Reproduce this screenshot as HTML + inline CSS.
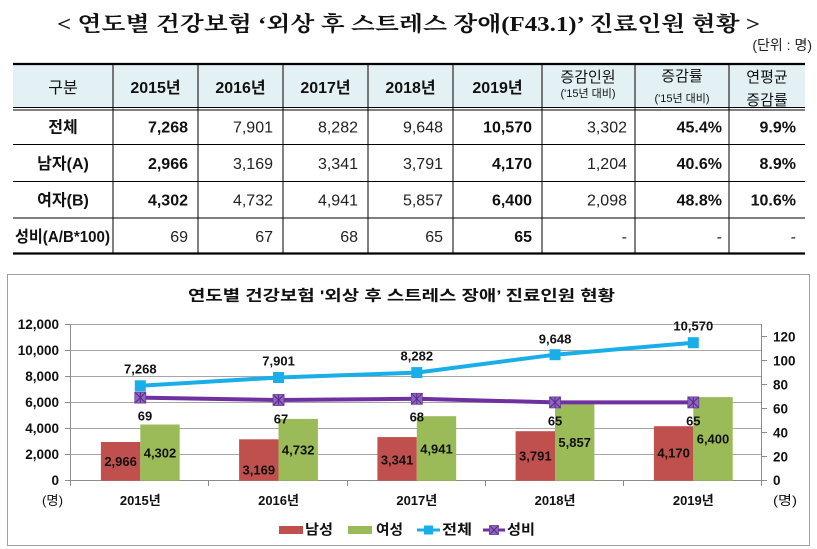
<!DOCTYPE html>
<html><head><meta charset="utf-8">
<style>
html,body{margin:0;padding:0;background:#fff;}
svg{display:block;}
text{font-family:"Liberation Sans","Noto Sans CJK KR",sans-serif;}
.ser{font-family:"Liberation Serif","Noto Serif CJK SC","Noto Sans CJK KR",serif;}
</style></head><body>
<svg width="817" height="549" viewBox="0 0 817 549" xmlns="http://www.w3.org/2000/svg">
<rect width="817" height="549" fill="#fff"/>
<!-- Title -->
<text class="ser" x="57" y="31" font-size="21" font-weight="700" fill="#111" textLength="703" lengthAdjust="spacingAndGlyphs">&lt; 연도별 건강보험 ‘외상 후 스트레스 장애(F43.1)’ 진료인원 현황 &gt;</text>
<text x="812" y="50" font-size="14" text-anchor="end" fill="#222">(단위 : 명)</text>

<!-- Table -->
<rect x="13" y="64" width="792" height="43" fill="#e3f1f4"/>
<line x1="13" y1="64" x2="805" y2="64" stroke="#000" stroke-width="2.2"/>
<line x1="13" y1="107.5" x2="805" y2="107.5" stroke="#000" stroke-width="1"/>
<line x1="13" y1="110" x2="805" y2="110" stroke="#000" stroke-width="1"/>
<line x1="13" y1="144.5" x2="805" y2="144.5" stroke="#000" stroke-width="1"/>
<line x1="13" y1="181.5" x2="805" y2="181.5" stroke="#000" stroke-width="1"/>
<line x1="13" y1="218" x2="805" y2="218" stroke="#000" stroke-width="1"/>
<line x1="13" y1="253.5" x2="805" y2="253.5" stroke="#000" stroke-width="2.2"/>
<g stroke="#000" stroke-width="1">
<line x1="113" y1="65" x2="113" y2="253"/>
<line x1="198" y1="65" x2="198" y2="253"/>
<line x1="283" y1="65" x2="283" y2="253"/>
<line x1="368" y1="65" x2="368" y2="253"/>
<line x1="453" y1="65" x2="453" y2="253"/>
<line x1="542" y1="65" x2="542" y2="253"/>
<line x1="635" y1="65" x2="635" y2="253"/>
<line x1="729" y1="65" x2="729" y2="253"/>
</g>
<!-- header text -->
<g font-size="16" fill="#111" text-anchor="middle">
<text x="63" y="93">구분</text>
<g font-weight="700">
<text x="155.5" y="93">2015년</text>
<text x="240.5" y="93">2016년</text>
<text x="325.5" y="93">2017년</text>
<text x="410.5" y="93">2018년</text>
<text x="497.5" y="93">2019년</text>
</g>
<text x="588" y="82" font-size="15">증감인원</text>
<text x="588" y="97" font-size="11">('15년 대비)</text>
<text x="682" y="81" font-size="15">증감률</text>
<text x="682" y="102" font-size="11">('15년 대비)</text>
<text x="767" y="82" font-size="15">연평균</text>
<text x="767" y="105" font-size="15">증감률</text>
</g>
<!-- row labels -->
<g font-size="16" fill="#111" text-anchor="middle" font-weight="700">
<text x="63" y="132.5">전체</text>
<text x="63" y="169">남자(A)</text>
<text x="63" y="205.5">여자(B)</text>
<text x="15" y="242" text-anchor="start" textLength="95" lengthAdjust="spacingAndGlyphs">성비(A/B*100)</text>
</g>
<!-- data -->
<g font-size="16" fill="#111" text-anchor="end">
<g font-weight="700">
<text x="188" y="132.5">7,268</text><text x="188" y="169">2,966</text><text x="188" y="205.5">4,302</text>
<text x="532" y="132.5">10,570</text><text x="532" y="169">4,170</text><text x="532" y="205.5">6,400</text><text x="532" y="242">65</text>
<text x="722" y="132.5">45.4%</text><text x="722" y="169">40.6%</text><text x="722" y="205.5">48.8%</text>
<text x="796" y="132.5">9.9%</text><text x="796" y="169">8.9%</text><text x="796" y="205.5">10.6%</text>
</g>
<g fill="#222">
<text x="188" y="242">69</text>
<text x="273" y="132.5">7,901</text><text x="273" y="169">3,169</text><text x="273" y="205.5">4,732</text><text x="273" y="242">67</text>
<text x="358" y="132.5">8,282</text><text x="358" y="169">3,341</text><text x="358" y="205.5">4,941</text><text x="358" y="242">68</text>
<text x="443" y="132.5">9,648</text><text x="443" y="169">3,791</text><text x="443" y="205.5">5,857</text><text x="443" y="242">65</text>
<text x="627" y="132.5">3,302</text><text x="627" y="169">1,204</text><text x="627" y="205.5">2,098</text><text x="627" y="242">-</text>
<text x="722" y="242">-</text>
<text x="796" y="242">-</text>
</g>
</g>

<!-- Chart box -->
<rect x="7.5" y="274.5" width="802" height="271" fill="#fff" stroke="#a0a0a0" stroke-width="1"/>
<text x="401.5" y="300.5" font-size="15" font-weight="700" text-anchor="middle" fill="#111" textLength="427" lengthAdjust="spacingAndGlyphs">연도별 건강보험 '외상 후 스트레스 장애’ 진료인원 현황</text>

<!-- gridlines -->
<g stroke="#a6a6a6" stroke-width="1">
<line x1="70" y1="324.5" x2="762" y2="324.5"/>
<line x1="70" y1="350.5" x2="762" y2="350.5"/>
<line x1="70" y1="376.5" x2="762" y2="376.5"/>
<line x1="70" y1="402.5" x2="762" y2="402.5"/>
<line x1="70" y1="428.5" x2="762" y2="428.5"/>
<line x1="70" y1="454.5" x2="762" y2="454.5"/>
</g>
<!-- axes -->
<g stroke="#8c8c8c" stroke-width="1">
<line x1="70.5" y1="324" x2="70.5" y2="481"/>
<line x1="761.5" y1="324" x2="761.5" y2="481"/>
<line x1="65" y1="480.5" x2="767" y2="480.5"/>
<line x1="65" y1="324.5" x2="70" y2="324.5"/>
<line x1="65" y1="350.5" x2="70" y2="350.5"/>
<line x1="65" y1="376.5" x2="70" y2="376.5"/>
<line x1="65" y1="402.5" x2="70" y2="402.5"/>
<line x1="65" y1="428.5" x2="70" y2="428.5"/>
<line x1="65" y1="454.5" x2="70" y2="454.5"/>
<line x1="762" y1="336.5" x2="767" y2="336.5"/>
<line x1="762" y1="360.5" x2="767" y2="360.5"/>
<line x1="762" y1="384.5" x2="767" y2="384.5"/>
<line x1="762" y1="408.5" x2="767" y2="408.5"/>
<line x1="762" y1="432.5" x2="767" y2="432.5"/>
<line x1="762" y1="456.5" x2="767" y2="456.5"/>
<line x1="70.5" y1="481" x2="70.5" y2="486"/>
<line x1="208.5" y1="481" x2="208.5" y2="486"/>
<line x1="347.5" y1="481" x2="347.5" y2="486"/>
<line x1="485.5" y1="481" x2="485.5" y2="486"/>
<line x1="623.5" y1="481" x2="623.5" y2="486"/>
<line x1="761.5" y1="481" x2="761.5" y2="486"/>
</g>
<!-- left axis labels -->
<g font-size="13.5" font-weight="700" fill="#111" text-anchor="end">
<text x="59" y="329">12,000</text>
<text x="59" y="355">10,000</text>
<text x="59" y="381">8,000</text>
<text x="59" y="407">6,000</text>
<text x="59" y="433">4,000</text>
<text x="59" y="459">2,000</text>
<text x="59" y="485">0</text>
</g>
<g font-size="13.5" font-weight="700" fill="#111" text-anchor="start">
<text x="773" y="341.5">120</text>
<text x="773" y="365.5">100</text>
<text x="773" y="389.5">80</text>
<text x="773" y="413.5">60</text>
<text x="773" y="437.5">40</text>
<text x="773" y="461.5">20</text>
<text x="773" y="485">0</text>
</g>
<!-- bars -->
<g fill="#c0504d">
<rect x="100.9" y="442.0" width="39.4" height="38.7"/>
<rect x="239.1" y="439.3" width="39.4" height="41.4"/>
<rect x="377.4" y="437.1" width="39.4" height="43.6"/>
<rect x="515.6" y="431.2" width="39.4" height="49.5"/>
<rect x="653.9" y="426.2" width="39.4" height="54.5"/>
</g>
<g fill="#9bbb59">
<rect x="140.3" y="424.5" width="39.4" height="56.2"/>
<rect x="278.5" y="418.9" width="39.4" height="61.8"/>
<rect x="416.8" y="416.2" width="39.4" height="64.5"/>
<rect x="555.0" y="404.2" width="39.4" height="76.5"/>
<rect x="693.3" y="397.1" width="39.4" height="83.6"/>
</g>
<!-- lines -->
<polyline points="140.3,385.8 278.55,377.5 416.8,372.6 555.05,354.7 693.3,342.7" fill="none" stroke="#1aaee8" stroke-width="4" stroke-linejoin="round"/>
<g fill="#1aaee8">
<rect x="134.8" y="380.3" width="11" height="11"/>
<rect x="273.05" y="372" width="11" height="11"/>
<rect x="411.3" y="367.1" width="11" height="11"/>
<rect x="549.55" y="349.2" width="11" height="11"/>
<rect x="687.8" y="337.2" width="11" height="11"/>
</g>
<polyline points="140.3,397.6 278.55,400 416.8,398.8 555.05,402.4 693.3,402.4" fill="none" stroke="#7030a0" stroke-width="4" stroke-linejoin="round"/>
<g fill="#8f66bd" stroke="#6a3a9a" stroke-width="0.8">
<rect x="134.8" y="392.1" width="11" height="11"/>
<rect x="273.05" y="394.5" width="11" height="11"/>
<rect x="411.3" y="393.3" width="11" height="11"/>
<rect x="549.55" y="396.9" width="11" height="11"/>
<rect x="687.8" y="396.9" width="11" height="11"/>
</g>
<g stroke="#5a2a8a" stroke-width="1">
<path d="M135.3 392.6 L145.3 402.6 M145.3 392.6 L135.3 402.6 M140.3 392.1 L140.3 403.1"/>
<path d="M273.55 395 L283.55 405 M283.55 395 L273.55 405 M278.55 394.5 L278.55 405.5"/>
<path d="M411.8 393.8 L421.8 403.8 M421.8 393.8 L411.8 403.8 M416.8 393.3 L416.8 404.3"/>
<path d="M550.05 397.4 L560.05 407.4 M560.05 397.4 L550.05 407.4 M555.05 396.9 L555.05 407.9"/>
<path d="M688.3 397.4 L698.3 407.4 M698.3 397.4 L688.3 407.4 M693.3 396.9 L693.3 407.9"/>
</g>
<!-- data labels -->
<g font-size="13" font-weight="700" fill="#111" text-anchor="middle">
<text x="140.3" y="373.5">7,268</text>
<text x="278.55" y="365.5">7,901</text>
<text x="416.8" y="360.5">8,282</text>
<text x="555.05" y="343.5">9,648</text>
<text x="693.3" y="330.5">10,570</text>
<text x="145" y="420.5">69</text>
<text x="281" y="423.5">67</text>
<text x="416.8" y="421.5">68</text>
<text x="555.05" y="425.5">65</text>
<text x="693.3" y="425.5">65</text>
<text x="120.6" y="466">2,966</text>
<text x="258.8" y="474.5">3,169</text>
<text x="397.1" y="464.5">3,341</text>
<text x="535.3" y="460.5">3,791</text>
<text x="673.6" y="457.5">4,170</text>
<text x="160" y="457.5">4,302</text>
<text x="298.2" y="454.5">4,732</text>
<text x="436.5" y="453.5">4,941</text>
<text x="574.7" y="447">5,857</text>
<text x="713" y="443.5">6,400</text>
</g>
<!-- x labels -->
<g font-size="13" font-weight="700" fill="#111" text-anchor="middle">
<text x="140.3" y="505">2015년</text>
<text x="278.55" y="505">2016년</text>
<text x="416.8" y="505">2017년</text>
<text x="555.05" y="505">2018년</text>
<text x="693.3" y="505">2019년</text>
</g>
<text x="42" y="505" font-size="13" fill="#111" textLength="21" lengthAdjust="spacingAndGlyphs">(명)</text>
<text x="773" y="505" font-size="13" fill="#111" textLength="24" lengthAdjust="spacingAndGlyphs">(명)</text>
<!-- legend -->
<rect x="279" y="526" width="24" height="8" fill="#c0504d"/>
<text x="305" y="534.5" font-size="14" font-weight="700" fill="#111" textLength="28" lengthAdjust="spacingAndGlyphs">남성</text>
<rect x="348" y="526" width="24" height="8" fill="#9bbb59"/>
<text x="376" y="534.5" font-size="14" font-weight="700" fill="#111" textLength="27" lengthAdjust="spacingAndGlyphs">여성</text>
<line x1="417" y1="530" x2="440" y2="530" stroke="#1aaee8" stroke-width="3"/>
<rect x="424" y="525.5" width="9" height="9" fill="#1aaee8"/>
<text x="442" y="534.5" font-size="14" font-weight="700" fill="#111" textLength="30" lengthAdjust="spacingAndGlyphs">전체</text>
<line x1="483" y1="530" x2="505" y2="530" stroke="#7030a0" stroke-width="3"/>
<rect x="489.5" y="525.5" width="9" height="9" fill="#8f66bd" stroke="#6a3a9a" stroke-width="0.8"/>
<path d="M490 526 L498 534 M498 526 L490 534" stroke="#5a2a8a" stroke-width="1"/>
<text x="507" y="534.5" font-size="14" font-weight="700" fill="#111" textLength="28" lengthAdjust="spacingAndGlyphs">성비</text>
</svg>
</body></html>
